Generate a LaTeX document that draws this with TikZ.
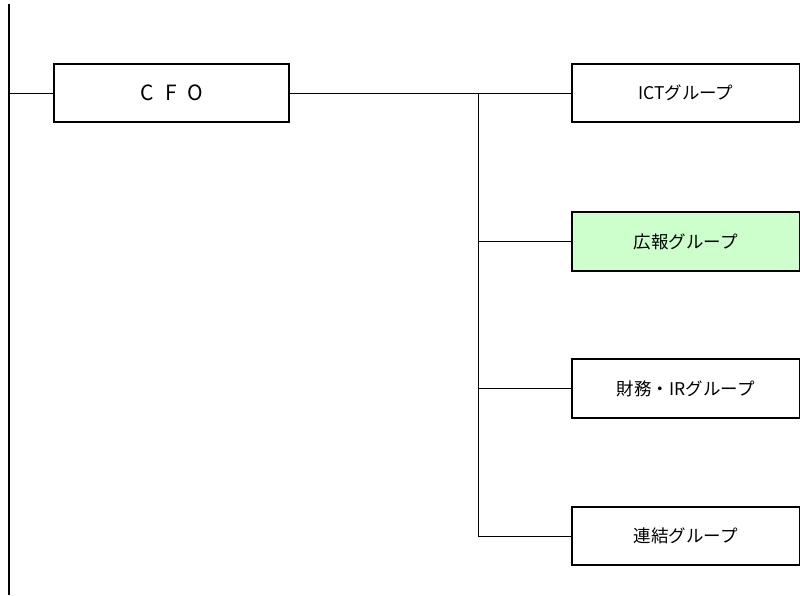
\documentclass[tikz,border=0pt]{standalone}
\usepackage{fontspec}
\newfontfamily\jp{Noto Sans CJK JP}
\definecolor{lightgreen}{HTML}{CCFFCC}
\begin{document}
\begin{tikzpicture}[x=1pt,y=-1pt,
  boxstyle/.style={draw=black,line width=1.5pt,fill=white,inner sep=0pt,font=\jp\fontsize{17.5}{20}\selectfont},
  conn/.style={draw=black,line width=0.9pt}]
\useasboundingbox (0,0) rectangle (800,595);
\node[boxstyle,line width=2pt,minimum width=235,minimum height=58,font=\jp\fontsize{21}{24}\selectfont] (cfo) at (171.5,93) {C\hspace{12pt}F\hspace{10pt}O};
\node[boxstyle,minimum width=228,minimum height=58,anchor=west] (ict) at (571,93) {ICTグループ};
\node[boxstyle,fill=lightgreen,minimum width=228,minimum height=59,anchor=west] (pr) at (571,241.5) {広報グループ};
\node[boxstyle,minimum width=228,minimum height=59,anchor=west] (fin) at (571,388.5) {財務・IRグループ};
\node[boxstyle,minimum width=228,minimum height=58,anchor=west] (con) at (571,536) {連結グループ};
\coordinate (ltop) at (9,4);
\coordinate (lbot) at (9,595);
\coordinate (lmid) at (9,93);
\coordinate (bus) at (478,93);
\coordinate (bus2) at (478,241.5);
\coordinate (bus3) at (478,388.5);
\coordinate (bus4) at (478,536);
\draw[line width=2pt] (ltop) -- (lbot);
\draw[conn] (lmid) -- (cfo.west);
\draw[conn] (cfo.east) -- (ict.west);
\draw[conn] (bus) -- (bus4) -- (con.west);
\draw[conn] (bus2) -- (pr.west);
\draw[conn] (bus3) -- (fin.west);
\end{tikzpicture}
\end{document}
